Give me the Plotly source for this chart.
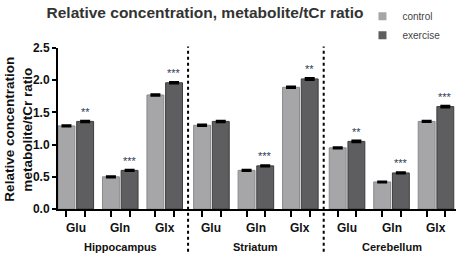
import plotly.graph_objects as go

regions = ["Hippocampus", "Striatum", "Cerebellum"]
metabolites = ["Glu", "Gln", "Glx"]
control = [1.29, 0.50, 1.77, 1.30, 0.60, 1.89, 0.95, 0.42, 1.36]
exercise = [1.36, 0.60, 1.96, 1.36, 0.67, 2.02, 1.05, 0.56, 1.59]
control_err = [0.01, 0.01, 0.012, 0.012, 0.008, 0.012, 0.01, 0.008, 0.01]
exercise_err = [0.012, 0.01, 0.012, 0.012, 0.01, 0.015, 0.012, 0.01, 0.012]
significance = ["**", "***", "***", "", "***", "**", "**", "***", "***"]
y_ticks = [0.0, 0.5, 1.0, 1.5, 2.0, 2.5]
y_title_lines = ["Relative concentration", "metabolite/tCr ratio"]

group_gap = 0.05
pos = []
for g in range(len(regions)):
    for m in range(len(metabolites)):
        pos.append(g * (len(metabolites) + group_gap) + m)

bw = 0.38
c_col = "#A6A6A8"
e_col = "#5E5E60"
FONT = "Liberation Sans"

fig = go.Figure()
fig.add_trace(go.Bar(
    x=pos, y=control, name="control", width=bw, offset=-0.4, showlegend=False,
    marker=dict(color=c_col, line=dict(color="#8a8a8c", width=1)),
    error_y=dict(type="data", array=control_err, color="black", thickness=2, width=5),
))
fig.add_trace(go.Bar(
    x=pos, y=exercise, name="exercise", width=bw, offset=0.02, showlegend=False,
    marker=dict(color=e_col, line=dict(color="#3c3c3e", width=1)),
    error_y=dict(type="data", array=exercise_err, color="black", thickness=2, width=5),
))
for nm, col in (("control", c_col), ("exercise", e_col)):
    fig.add_trace(go.Scatter(x=[None], y=[None], mode="markers", name=nm,
                             marker=dict(symbol="square", size=8, color=col)))

ann = []
for i, p in enumerate(pos):
    if significance[i]:
        ann.append(dict(x=p + 0.02 + bw / 2, y=exercise[i] + exercise_err[i], xref="x", yref="y",
                        text=significance[i], showarrow=False, yanchor="bottom", yshift=1,
                        font=dict(size=11, color="#2f3a55", family=FONT)))
    ann.append(dict(x=p, y=-0.117, xref="x", yref="paper", text="<b>%s</b>" % metabolites[i % 3],
                    showarrow=False, yanchor="middle",
                    font=dict(size=12, color="#111", family=FONT)))
for g, r in enumerate(regions):
    ann.append(dict(x=pos[g * 3 + 1], y=-0.234, xref="x", yref="paper", text="<b>%s</b>" % r,
                    showarrow=False, yanchor="middle",
                    font=dict(size=11, color="#111", family=FONT)))
# y axis title (two rotated lines)
for k, line in enumerate(y_title_lines):
    ann.append(dict(x=(10 + 18 * k - 58) / 398, y=0.493, xref="paper", yref="paper", textangle=-90,
                    showarrow=False, xanchor="center", yanchor="middle",
                    text="<b>%s</b>" % line, font=dict(size=13.5, color="#111", family=FONT)))

shapes = []
for g in range(1, len(regions)):
    xd = (pos[g * 3 - 1] + pos[g * 3]) / 2
    shapes.append(dict(type="line", xref="x", yref="paper", x0=xd, x1=xd, y0=-0.265, y1=1.01,
                       line=dict(color="black", width=2, dash="3px,3px")))

tick_pos = [p - 0.4 + bw / 2 for p in pos] + [p + 0.02 + bw / 2 for p in pos]

fig.update_layout(
    width=459, height=256,
    margin=dict(l=58, r=3, t=47, b=47),
    paper_bgcolor="white", plot_bgcolor="white",
    barmode="overlay",
    showlegend=True,
    legend=dict(x=0.765, y=1.28, xanchor="left", yanchor="top", font=dict(size=10, color="#444", family=FONT),
                bgcolor="rgba(0,0,0,0)", tracegroupgap=0, itemwidth=30),
    title=dict(text="<b>Relative concentration, metabolite/tCr ratio</b>", x=205 / 459, xanchor="center",
               y=1 - 13 / 256, yanchor="middle", font=dict(size=15.5, color="#333", family=FONT)),
    xaxis=dict(range=[-0.4, 8.55], tickvals=tick_pos, ticktext=[""] * len(tick_pos), ticks="outside",
               ticklen=6, tickwidth=2, tickcolor="black", showline=True, linecolor="black", linewidth=2,
               showgrid=False, zeroline=False),
    yaxis=dict(range=[0, 2.5], tickvals=y_ticks, ticktext=["<b>%.1f</b>" % v for v in y_ticks], ticks="outside",
               ticklen=4, tickwidth=2, tickcolor="black", showline=True, linecolor="black", linewidth=2,
               showgrid=False, zeroline=False, tickfont=dict(size=12, color="#111", family=FONT)),
    annotations=ann, shapes=shapes,
)

fig.write_html("out.html", config={"displayModeBar": False},
               post_script="document.body.style.margin='0';")
